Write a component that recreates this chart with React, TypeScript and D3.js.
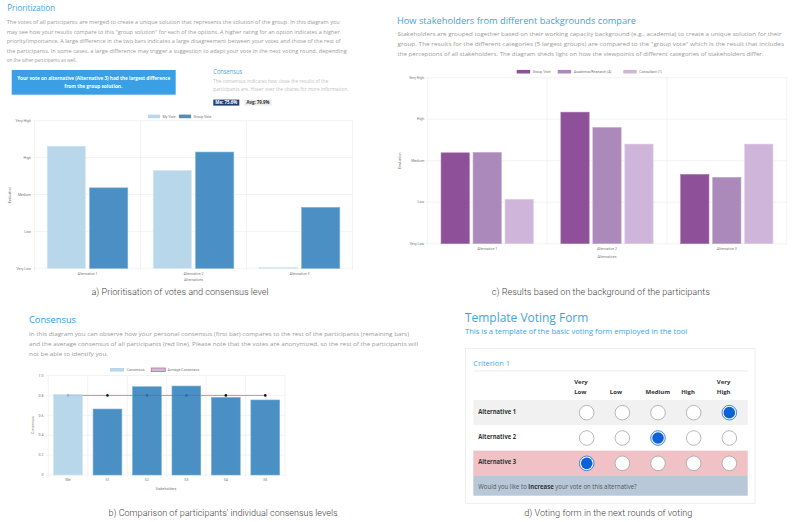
import * as d3 from 'd3';

// ---- data ----
const LEVELS = ['Very Low', 'Low', 'Medium', 'High', 'Very High'];
const ALTERNATIVES = ['Alternative 1', 'Alternative 2', 'Alternative 3'];

// a) my vote vs group vote (0 = Very Low ... 4 = Very High)
const MY_VOTE = [3.31, 2.65, 0.02];
const GROUP_VOTE = [2.18, 3.15, 1.65];

// c) results per background
const BG_SERIES = ['Group Vote', 'Academia/Research (4)', 'Consultant (1)'];
const BG_GROUP = [2.19, 3.17, 1.67];
const BG_ACADEMIA = [2.2, 2.8, 1.6];
const BG_CONSULTANT = [1.07, 2.4, 2.4];

// b) consensus per participant
const STAKEHOLDERS = ['Me', 'S1', 'S2', 'S3', 'S4', 'S5'];
const CONSENSUS = [0.81, 0.663, 0.887, 0.894, 0.78, 0.754];
const AVG_CONSENSUS = [0.8, 0.8, 0.8, 0.8, 0.8, 0.8];
const CONSENSUS_TICKS = [0, 0.2, 0.4, 0.6, 0.8, 1.0];

// d) voting form
const FORM_ALTS = ['Alternative 1', 'Alternative 2', 'Alternative 3'];
const FORM_SELECTED = [4, 2, 0];

// texts
const PRIO_LINES = [
  'The votes of all participants are merged to create a unique solution that represents the solution of the group. In this diagram you',
  'may see how your results compare to this "group solution" for each of the options. A higher rating for an option indicates a higher',
  'priority/importance. A large difference in the two bars indicates a large disagreement between your votes and those of the rest of',
  'the participants. In some cases, a large difference may trigger a suggestion to adapt your vote in the next voting round, depending',
  'on the other participants as well.',
];
const BG_LINES = [
  'Stakeholders are grouped together based on their working capacity background (e.g., academia) to create a unique solution for their',
  'group. The results for the different categories (5 largest groups) are compared to the "group vote" which is the result that includes',
  'the perceptions of all stakeholders. The diagram sheds light on how the viewpoints of different categories of stakeholders differ.',
];
const CONS_LINES = [
  'In this diagram you can observe how your personal consensus (first bar) compares to the rest of the participants (remaining bars)',
  'and the average consensus of all participants (red line). Please note that the votes are anonymized, so the rest of the participants will',
  'not be able to identify you.',
];

const UI = "'Open Sans', 'Noto Sans', sans-serif";
const CH = "Roboto, 'Liberation Sans', sans-serif";
const GRID = '#ebebeb';
const TICK = '#777';
const BODY = '#9a9a9a';

type TP = {
  x: number; y: number; text: string; size?: number; fill?: string; anchor?: string;
  weight?: number | string; family?: string; width?: number; rotate?: number;
};

function Txt({ x, y, text, size = 4, fill = TICK, anchor = 'start', weight = 400, family = CH, width, rotate }: TP) {
  return (
    <text
      x={x} y={y} dy="0.35em" fontSize={size} fill={fill} textAnchor={anchor as any}
      fontWeight={weight} fontFamily={family}
      textLength={width} lengthAdjust={width ? 'spacingAndGlyphs' : undefined}
      transform={rotate ? `rotate(${rotate} ${x} ${y})` : undefined}
    >{text}</text>
  );
}

function Caption({ x, y, text, width }: { x: number; y: number; text: string; width: number }) {
  return <Txt x={x} y={y} text={text} size={9} fill="#444" anchor="middle" weight={300} family="Roboto, sans-serif" width={width} />;
}

function PanelA() {
  const widths = [333, 333, 334, 340, 70];
  const lineY = [22, 31.6, 41.2, 50.8, 60.4];
  const yA = d3.scaleLinear().domain([0, 4]).range([268.3, 120.7]);
  const xA = d3.scaleBand<string>().domain(ALTERNATIVES).range([34.5, 352.5]);
  const series = [
    { name: 'My Vote', values: MY_VOTE, color: '#b9d7ea', edge: '#d3e6f2' },
    { name: 'Group Vote', values: GROUP_VOTE, color: '#4a90c4', edge: '#7aafd6' },
  ];
  const x1 = d3.scaleBand<string>().domain(series.map(s => s.name)).range([0, xA.bandwidth()]).paddingInner(0.1).paddingOuter(0.3);
  const legendX = [148, 179];
  return (
    <g>
      <Txt x={7.3} y={7.5} text="Prioritization" size={8.6} fill="#3ca3e0" family={UI} width={48} />
      {PRIO_LINES.map((l, i) => (
        <Txt key={i} x={6.7} y={lineY[i]} text={l} size={5.8} fill={BODY} family={UI} width={widths[i]} />
      ))}
      <rect x={11.7} y={70} width={164} height={24.7} fill="#3a9fe4" />
      <Txt x={93.7} y={78.3} text="Your vote on alternative (Alternative 3) had the largest difference" size={5} fill="#fff" anchor="middle" weight={700} family={UI} width={153} />
      <Txt x={93.3} y={86.7} text="from the group solution." size={5} fill="#fff" anchor="middle" weight={700} family={UI} width={58} />
      <Txt x={213.3} y={71.7} text="Consensus" size={6.3} fill="#4aa8e2" family={UI} width={29} />
      <Txt x={213.3} y={81.3} text="The consensus indicates how close the results of the" size={4.6} fill="#c2c2c2" family={UI} width={115} />
      <Txt x={213.3} y={89.3} text="participants are. Hover over the shares for more information." size={4.6} fill="#c2c2c2" family={UI} width={135} />
      <rect x={213.3} y={99.6} width={26} height={6} fill="#1f3f74" />
      <Txt x={226.3} y={102.6} text="Me: 75.6%" size={4.4} fill="#fff" anchor="middle" weight={700} family={UI} width={22} />
      <rect x={244.3} y={99.6} width={27.4} height={6} fill="#ececec" />
      <Txt x={258} y={102.6} text="Avg: 79.9%" size={4.4} fill="#333" anchor="middle" weight={700} family={UI} width={23} />

      {/* legend */}
      {series.map((s, i) => (
        <g key={s.name}>
          <rect x={legendX[i]} y={114.6} width={12} height={3.6} fill={s.color} />
          <Txt x={legendX[i] + 14.5} y={116.4} text={s.name} size={3.6} />
        </g>
      ))}
      {/* grid */}
      {LEVELS.map((lv, i) => (
        <g key={lv}>
          <line x1={33} x2={352.5} y1={yA(i)} y2={yA(i)} stroke={GRID} strokeWidth={0.6} />
          <Txt x={31} y={yA(i)} text={lv} size={3.6} anchor="end" />
        </g>
      ))}
      {[...ALTERNATIVES.map(a => xA(a)!), 352.5].map((x, i) => (
        <line key={i} x1={x} x2={x} y1={120.7} y2={270} stroke={GRID} strokeWidth={0.6} />
      ))}
      {series.map(s => s.values.map((v, i) => {
        const x = xA(ALTERNATIVES[i])! + x1(s.name)!;
        return <rect key={s.name + i} x={x} y={yA(v)} width={x1.bandwidth()} height={yA(0) - yA(v)} fill={s.color} stroke={s.edge} strokeWidth={0.6} />;
      }))}
      {ALTERNATIVES.map(a => (
        <Txt key={a} x={xA(a)! + xA.bandwidth() / 2} y={274} text={a} size={3.6} anchor="middle" />
      ))}
      <Txt x={193.5} y={279.6} text="Alternatives" size={3.6} anchor="middle" />
      <Txt x={10} y={195} text="Evaluation" size={3.6} anchor="middle" rotate={-90} />
      <Caption x={180} y={292.3} text="a) Prioritisation of votes and consensus level" width={177} />
    </g>
  );
}

function PanelC() {
  const widths = [384, 386.5, 366];
  const lineY = [33.8, 43.6, 53.4];
  const yC = d3.scaleLinear().domain([0, 4]).range([243.7, 77.7]);
  const xC = d3.scaleBand<string>().domain(ALTERNATIVES).range([427.3, 786.7]);
  const series = [
    { name: BG_SERIES[0], values: BG_GROUP, color: '#8e5199', edge: '#a877b1' },
    { name: BG_SERIES[1], values: BG_ACADEMIA, color: '#ab89bb', edge: '#c2a8ce' },
    { name: BG_SERIES[2], values: BG_CONSULTANT, color: '#cfb5da', edge: '#dfcde6' },
  ];
  const x1 = d3.scaleBand<string>().domain(BG_SERIES).range([0, xC.bandwidth()]).paddingInner(0.115).paddingOuter(0.43);
  const legendX = [516.7, 557.7, 623.3];
  return (
    <g>
      <Txt x={397} y={21} text="How stakeholders from different backgrounds compare" size={9.4} fill="#3ca3e0" family={UI} width={239} />
      {BG_LINES.map((l, i) => (
        <Txt key={i} x={397.5} y={lineY[i]} text={l} size={6.1} fill={BODY} family={UI} width={widths[i]} />
      ))}
      {series.map((s, i) => (
        <g key={s.name}>
          <rect x={legendX[i]} y={69.9} width={13.5} height={3.6} fill={s.color} />
          <Txt x={legendX[i] + 16} y={71.7} text={s.name} size={3.6} />
        </g>
      ))}
      {LEVELS.map((lv, i) => (
        <g key={lv}>
          <line x1={426} x2={786.7} y1={yC(i)} y2={yC(i)} stroke={GRID} strokeWidth={0.6} />
          <Txt x={424.3} y={yC(i)} text={lv} size={3.6} anchor="end" />
        </g>
      ))}
      {[...ALTERNATIVES.map(a => xC(a)!), 786.7].map((x, i) => (
        <line key={i} x1={x} x2={x} y1={77.7} y2={245.5} stroke={GRID} strokeWidth={0.6} />
      ))}
      {series.map(s => s.values.map((v, i) => {
        const x = xC(ALTERNATIVES[i])! + x1(s.name)!;
        return <rect key={s.name + i} x={x} y={yC(v)} width={x1.bandwidth()} height={yC(0) - yC(v)} fill={s.color} stroke={s.edge} strokeWidth={0.6} />;
      }))}
      {ALTERNATIVES.map(a => (
        <Txt key={a} x={xC(a)! + xC.bandwidth() / 2} y={249.2} text={a} size={3.6} anchor="middle" />
      ))}
      <Txt x={607} y={257} text="Alternatives" size={3.6} anchor="middle" />
      <Txt x={400} y={160.7} text="Evaluation" size={3.6} anchor="middle" rotate={-90} />
      <Caption x={600.8} y={292.3} text="c) Results based on the background of the participants" width={218} />
    </g>
  );
}

function PanelB() {
  const widths = [380, 389, 79];
  const lineY = [333.4, 343.8, 354.3];
  const yB = d3.scaleLinear().domain([0, 1]).range([475, 375.5]);
  const xB = d3.scaleBand<string>().domain(STAKEHOLDERS).range([48.3, 285]);
  const barW = xB.bandwidth() * 0.73;
  // bars drawn semi-transparent over the average line
  const colors = ['#add0e6', '#2a7cba'];
  const line = d3.line<number>()
    .x((_, i) => xB(STAKEHOLDERS[i])! + xB.bandwidth() / 2)
    .y(d => yB(d));
  return (
    <g>
      <Txt x={29} y={320} text="Consensus" size={9.4} fill="#2f9be6" family={UI} width={47} />
      {CONS_LINES.map((l, i) => (
        <Txt key={i} x={29} y={lineY[i]} text={l} size={6.1} fill={BODY} family={UI} width={widths[i]} />
      ))}
      <rect x={110} y={368} width={14} height={3.6} fill="#b9d7ea" />
      <Txt x={126.7} y={369.8} text="Consensus" size={3.6} />
      <rect x={151.3} y={368} width={14} height={3.6} fill="#b3c7e2" stroke="#e8607f" strokeWidth={0.8} />
      <Txt x={167.5} y={369.8} text="Average Consensus" size={3.6} />

      {CONSENSUS_TICKS.map((t, i) => (
        <g key={i}>
          <line x1={46} x2={285} y1={yB(t)} y2={yB(t)} stroke={GRID} strokeWidth={0.6} />
          <Txt x={43.5} y={yB(t)} text={t === 0 ? '0' : t.toFixed(1)} size={3.6} anchor="end" />
        </g>
      ))}
      {[...STAKEHOLDERS.map(s => xB(s)!), 285].map((x, i) => (
        <line key={i} x1={x} x2={x} y1={375.5} y2={477} stroke={GRID} strokeWidth={0.6} />
      ))}
      <path d={line(AVG_CONSENSUS) || ''} fill="none" stroke="#e8607f" strokeWidth={0.8} />
      {AVG_CONSENSUS.map((v, i) => (
        <circle key={i} cx={xB(STAKEHOLDERS[i])! + xB.bandwidth() / 2} cy={yB(v)} r={1.3} fill="#111" />
      ))}
      {CONSENSUS.map((v, i) => (
        <rect key={i} x={xB(STAKEHOLDERS[i])! + (xB.bandwidth() - barW) / 2} y={yB(v)} width={barW} height={yB(0) - yB(v)}
          fill={i === 0 ? colors[0] : colors[1]} fillOpacity={0.85} stroke={i === 0 ? '#cfe3f0' : '#78aed6'} strokeWidth={0.6} />
      ))}
      {STAKEHOLDERS.map(s => (
        <Txt key={s} x={xB(s)! + xB.bandwidth() / 2} y={480} text={s} size={3.6} anchor="middle" />
      ))}
      <Txt x={166} y={488.7} text="Stakeholders" size={3.6} anchor="middle" />
      <Txt x={33} y={425} text="Consensus" size={3.6} anchor="middle" rotate={-90} />
      <Caption x={223} y={512.7} text="b) Comparison of participants’ individual consensus levels" width={229} />
    </g>
  );
}

function PanelD() {
  const cx = d3.scalePoint<string>().domain(LEVELS).range([586.7, 729.3]);
  const rows = d3.scaleBand<string>().domain(FORM_ALTS).range([400, 476]);
  const rowFill = ['#f1f1f1', '#ffffff', '#f0c1c5'];
  const r = 7.3;
  return (
    <g>
      <Txt x={465} y={317.3} text="Template Voting Form" size={12.4} fill="#3aa6e8" family={UI} width={123.3} />
      <Txt x={465} y={331.7} text="This is a template of the basic voting form employed in the tool" size={7.2} fill="#3aa6e8" family={UI} width={222.3} />
      <rect x={465.7} y={348.3} width={289.3} height={155} fill="#fff" stroke="#e6e6e6" strokeWidth={0.7} />
      <Txt x={473.3} y={362.7} text="Criterion 1" size={8} fill="#49a7e1" family={UI} width={36.7} />
      <line x1={473.3} x2={747.7} y1={371} y2={371} stroke="#e3e3e3" strokeWidth={0.7} />
      {LEVELS.map(lv => {
        const words = lv.split(' ');
        const x = cx(lv)! - 12.5;
        return words.map((w, j) => (
          <Txt key={lv + j} x={x} y={words.length === 2 && j === 0 ? 382.3 : 391.7} text={w} size={6} fill="#333" weight={700} family={UI} />
        ));
      })}
      {FORM_ALTS.map((a, i) => {
        const y0 = rows(a)!;
        const yc = y0 + rows.bandwidth() / 2;
        return (
          <g key={a}>
            <rect x={473.3} y={y0} width={274.4} height={rows.bandwidth()} fill={rowFill[i]} />
            <Txt x={478.3} y={yc - 1.3} text={a} size={6.1} fill="#333" weight={700} family={UI} width={37.7} />
            {LEVELS.map((lv, j) => FORM_SELECTED[i] === j ? (
              <g key={lv}>
                <circle cx={cx(lv)} cy={yc} r={r} fill="#fff" stroke="#2f74dc" strokeWidth={0.9} />
                <circle cx={cx(lv)} cy={yc} r={r - 1.5} fill="#0b63d6" />
              </g>
            ) : (
              <circle key={lv} cx={cx(lv)} cy={yc} r={r} fill="#fff" stroke="#9a9a9a" strokeWidth={0.7} />
            ))}
          </g>
        );
      })}
      <rect x={473.3} y={476} width={274.4} height={19.7} fill="#b8c8d9" />
      <text x={478.3} y={486.7} dy="0.35em" fontSize={6.2} fill="#555" fontFamily={UI} textLength={158.4} lengthAdjust="spacingAndGlyphs">
        Would you like to <tspan fontWeight={700} fill="#333">increase</tspan> your vote on this alternative?
      </text>
      <Caption x={608.3} y={512.7} text="d) Voting form in the next rounds of voting" width={168} />
    </g>
  );
}

export default function App() {
  return (
    <svg width={792} height={522} viewBox="0 0 792 522"
      style={{ position: 'absolute', left: 0, top: 0, background: '#fff', display: 'block' }}>
      <rect width={792} height={522} fill="#fff" />
      <PanelA />
      <PanelC />
      <PanelB />
      <PanelD />
    </svg>
  );
}
